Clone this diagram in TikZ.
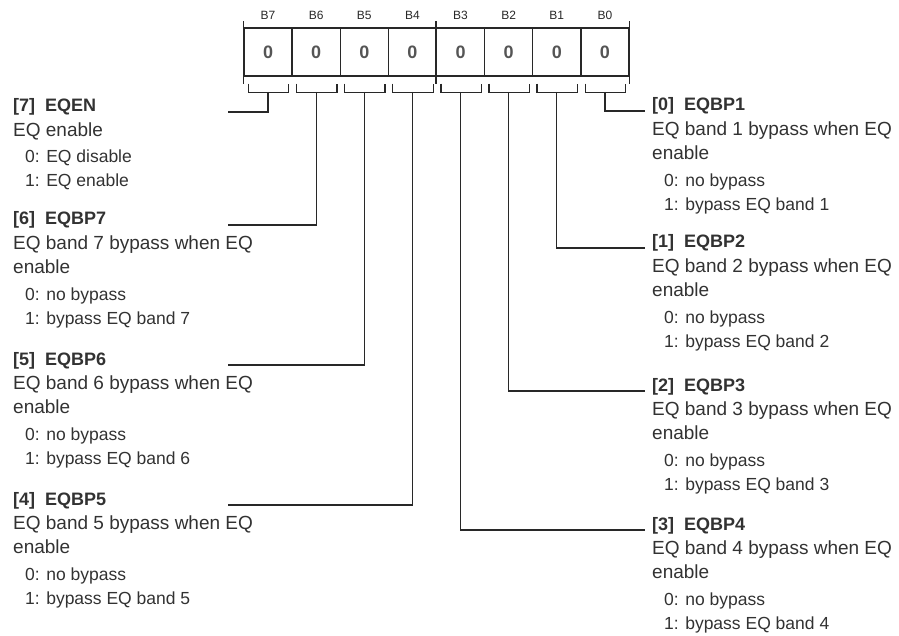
\documentclass[tikz,border=0pt]{standalone}
\usepackage{fontspec}
\setmainfont{Liberation Sans}
\usetikzlibrary{positioning}
\definecolor{regLine}{RGB}{40,40,40}
\definecolor{regText}{RGB}{50,50,50}
\definecolor{regZero}{RGB}{85,85,85}
\newcommand{\valline}{\hspace*{12pt}\fontsize{17.5}{24}\selectfont}

\begin{document}
\begin{tikzpicture}[x=1pt, y=-1pt,
cell/.style={rectangle, draw=regLine, line width=1.3pt,
minimum width=48.125pt, minimum height=48pt, inner sep=0pt,
font=\fontsize{18}{20}\selectfont\bfseries, text=regZero},
bitlabel/.style={inner sep=0pt, font=\fontsize{12}{14}\selectfont, text=regLine},
fieldhead/.style={anchor=base west, inner sep=0pt, text=regText,
font=\fontsize{18}{24}\selectfont\bfseries},
fieldbody/.style={below right=11pt and 0pt, align=left, inner sep=0pt,
text=regText, font=\fontsize{19}{24}\selectfont},
link/.style={draw=regLine, line width=1.3pt}]

\useasboundingbox (0,0) rectangle (899,636);

% register B7..B0
\foreach \b [count=\i from 0] in {7,6,...,0} {
  \node[cell] (cell\b) at ({268.06+48.125*\i},52) {0};
  \node[bitlabel, above=8pt of cell\b] (lbl\b) {B\b};
  \coordinate (br\b) at ({268.06+48.125*\i},92);
  \draw[link] ([shift={(5,7)}]cell\b.south west) -- ++(0,9)
    -| ([shift={(-4,7)}]cell\b.south east);
}
\draw[link] ([yshift=6pt]cell7.north west) -- ([yshift=-7pt]cell7.south west);
\draw[link] ([yshift=6pt]cell3.north west) -- ([yshift=-7pt]cell3.south west);
\draw[link] ([yshift=6pt]cell0.north east) -- ([yshift=-7pt]cell0.south east);

% fields on the left
\node[fieldhead] (h7) at (13,112) {[7]\ \ EQEN};
\node[fieldbody] (d7) at (h7.base west)
    {EQ enable\\[2pt] \valline 0: EQ disable\\ \valline 1: EQ enable};
\node[fieldhead] (h6) at (13,225) {[6]\ \ EQBP7};
\node[fieldbody] (d6) at (h6.base west)
    {EQ band 7 bypass when EQ\\ enable\\[3pt]
     \valline 0: no bypass\\ \valline 1: bypass EQ band 7};
\node[fieldhead] (h5) at (13,365) {[5]\ \ EQBP6};
\node[fieldbody] (d5) at (h5.base west)
    {EQ band 6 bypass when EQ\\ enable\\[3pt]
     \valline 0: no bypass\\ \valline 1: bypass EQ band 6};
\node[fieldhead] (h4) at (13,505) {[4]\ \ EQBP5};
\node[fieldbody] (d4) at (h4.base west)
    {EQ band 5 bypass when EQ\\ enable\\[3pt]
     \valline 0: no bypass\\ \valline 1: bypass EQ band 5};

% fields on the right
\node[fieldhead] (h0) at (652,111) {[0]\ \ EQBP1};
\node[fieldbody] (d0) at (h0.base west)
    {EQ band 1 bypass when EQ\\ enable\\[3pt]
     \valline 0: no bypass\\ \valline 1: bypass EQ band 1};
\node[fieldhead] (h1) at (652,248) {[1]\ \ EQBP2};
\node[fieldbody] (d1) at (h1.base west)
    {EQ band 2 bypass when EQ\\ enable\\[3pt]
     \valline 0: no bypass\\ \valline 1: bypass EQ band 2};
\node[fieldhead] (h2) at (652,391) {[2]\ \ EQBP3};
\node[fieldbody] (d2) at (h2.base west)
    {EQ band 3 bypass when EQ\\ enable\\[3pt]
     \valline 0: no bypass\\ \valline 1: bypass EQ band 3};
\node[fieldhead] (h3) at (652,530) {[3]\ \ EQBP4};
\node[fieldbody] (d3) at (h3.base west)
    {EQ band 4 bypass when EQ\\ enable\\[3pt]
     \valline 0: no bypass\\ \valline 1: bypass EQ band 4};

% connectors
\coordinate (e7) at (228,112);
\coordinate (e6) at (228,225);
\coordinate (e5) at (228,365);
\coordinate (e4) at (228,505);
\draw[link] (br7) |- (e7);
\draw[link] (br6) |- (e6);
\draw[link] (br5) |- (e5);
\draw[link] (br4) |- (e4);
\draw[link] (br0) |- ([xshift=-7pt]h0.base west);
\draw[link] (br1) |- ([xshift=-7pt]h1.base west);
\draw[link] (br2) |- ([xshift=-7pt]h2.base west);
\draw[link] (br3) |- ([xshift=-7pt]h3.base west);
\end{tikzpicture}
\end{document}
